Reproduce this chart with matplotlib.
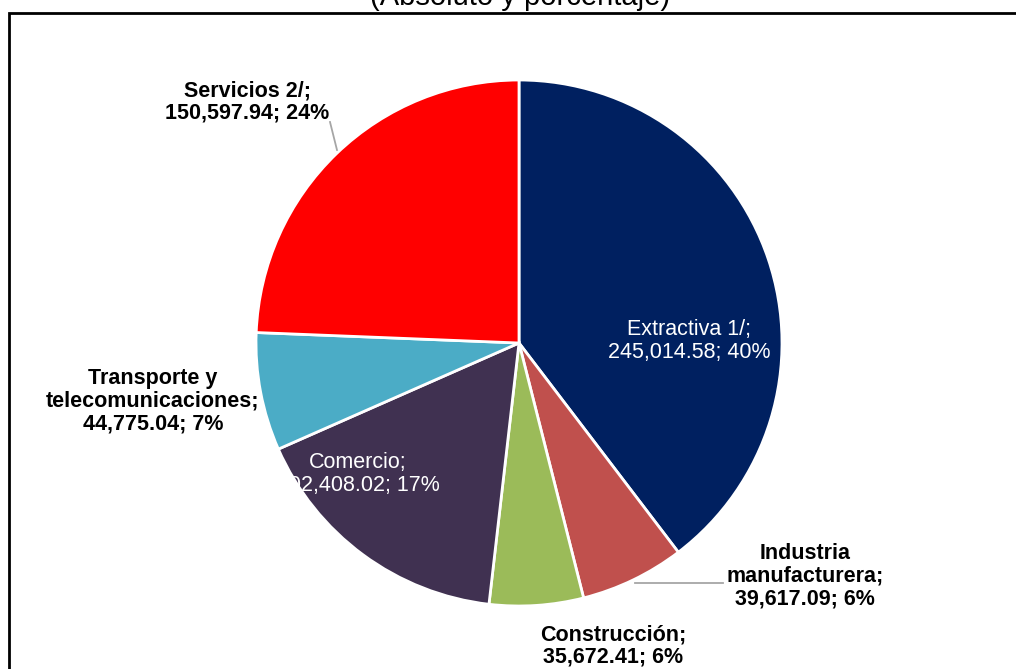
import matplotlib
matplotlib.use('Agg')
import matplotlib.pyplot as plt
from matplotlib.patches import Rectangle

plt.rcParams['font.family'] = ['Liberation Sans', 'DejaVu Sans']

# data
sectors = ['Extractiva 1/', 'Industria\nmanufacturera', 'Construcción', 'Comercio',
           'Transporte y\ntelecomunicaciones', 'Servicios 2/']
values = [245014.58, 39617.09, 35672.41, 102408.02, 44775.04, 150597.94]
colors = ['#002060', '#C0504D', '#9BBB59', '#403151', '#4BACC6', '#FF0000']
title = '(Absoluto y porcentaje)'

W, H = 1016, 669
fig = plt.figure(figsize=(W / 100, H / 100), dpi=100)
ax = fig.add_axes([0, 0, 1, 1])

cx, cy, r = 519, H - 343, 263
wedges, _ = ax.pie(values, colors=colors, startangle=90, counterclock=False,
                   center=(cx, cy), radius=r,
                   wedgeprops=dict(edgecolor='white', linewidth=2))
ax.set_xlim(0, W)
ax.set_ylim(0, H)
ax.set_aspect('equal')
ax.axis('off')

total = sum(values)
labels = []
for name, v in zip(sectors, values):
    labels.append(f'{name};\n{v:,.2f}; {v / total * 100:.0f}%')

# label layout (pixel positions from top-left), inside labels are white
label_pos = [(689, 341), (805, 576), (613, 646), (358, 474), (153, 401), (247, 102)]
inside = [True, False, False, True, False, False]

for lab, (x, y), ins in zip(labels, label_pos, inside):
    if ins:
        ax.text(x, H - y, lab, ha='center', va='center', color='white',
                fontsize=15.5, linespacing=1.1)
    else:
        ax.text(x, H - y, lab, ha='center', va='center', color='black',
                fontsize=15.5, fontweight='bold', linespacing=1.1)

# leader lines
ax.plot([635, 723], [H - 583, H - 583], color='#a6a6a6', lw=1.3)
ax.plot([330, 337], [H - 122, H - 150], color='#a6a6a6', lw=1.3)

# title (cut at top) and border
fig.text(520 / W, 1 - 5 / H, title, ha='center', va='baseline', fontsize=21)
fig.patches.append(Rectangle((8.5 / W, -0.1), 1.2, 1.1 - 12.5 / H,
                             transform=fig.transFigure, fill=False,
                             edgecolor='black', linewidth=2))

fig.savefig('out.png', dpi=100)
